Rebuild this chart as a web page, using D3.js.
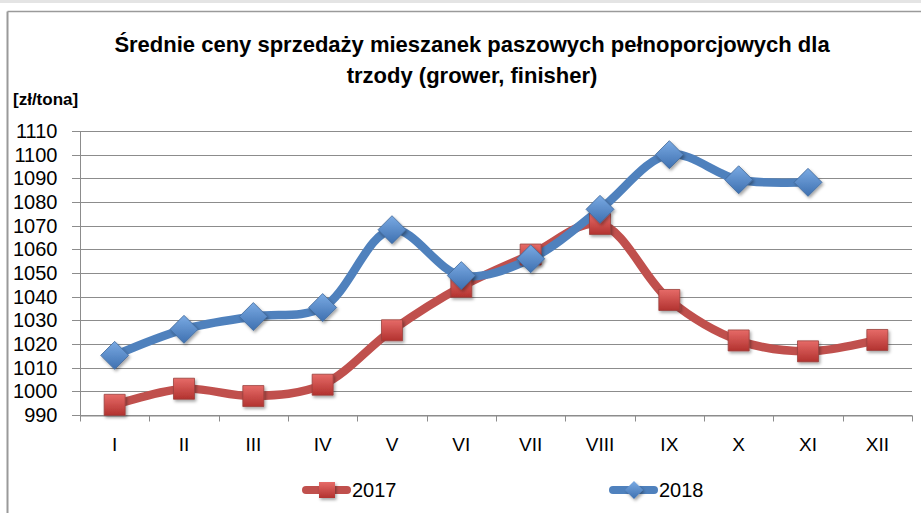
<!DOCTYPE html>
<html lang="pl">
<head>
<meta charset="UTF-8">
<title>Średnie ceny sprzedaży mieszanek paszowych</title>
<script src="https://d3js.org/d3.v7.min.js"></script>
<style>
    body { margin: 0; background: #fff; }
    svg { display: block; font-family: "Liberation Sans", Arial, sans-serif; }
    .grid line { stroke: #8c8c8c; stroke-width: 1; }
    .axis path, .axis line { stroke: #8c8c8c; }
    .axis text { fill: #000; }
</style>
</head>
<body>
<div id="chart"></div>
<script>
    // data
    const months = ["I", "II", "III", "IV", "V", "VI", "VII", "VIII", "IX", "X", "XI", "XII"];
    const sales2017 = [994.3, 1001.1, 998.0, 1002.8, 1025.8, 1044.2, 1057.8, 1070.7, 1038.6, 1021.5, 1016.9, 1021.7];
    const sales2018 = [1015.2, 1026.2, 1031.6, 1035.4, 1068.3, 1048.9, 1056.0, 1076.9, 1100.0, 1089.4, 1088.3];
    const yTicks = [990, 1000, 1010, 1020, 1030, 1040, 1050, 1060, 1070, 1080, 1090, 1100, 1110];
    const titleLines = ["Średnie ceny sprzedaży mieszanek paszowych pełnoporcjowych dla", "trzody (grower, finisher)"];

    const width = 921, height = 513;
    const margin = { top: 131, right: 9, bottom: 98, left: 80 };

    const svg = d3.select("#chart").append("svg")
        .attr("width", width)
        .attr("height", height);

    const defs = svg.append("defs");
    const shadow = defs.append("filter").attr("id", "shadow")
        .attr("x", "-50%").attr("y", "-50%").attr("width", "200%").attr("height", "200%");
    shadow.append("feDropShadow")
        .attr("dx", 1.5).attr("dy", 2).attr("stdDeviation", 1.5)
        .attr("flood-color", "#000").attr("flood-opacity", 0.35);

    function gradient(id, top, bottom) {
        const g = defs.append("linearGradient").attr("id", id)
            .attr("x1", 0).attr("y1", 0).attr("x2", 0).attr("y2", 1);
        g.append("stop").attr("offset", "0%").attr("stop-color", top);
        g.append("stop").attr("offset", "100%").attr("stop-color", bottom);
    }
    gradient("redGrad", "#e66b68", "#b2322f");
    gradient("blueGrad", "#7aaae3", "#3e70b0");

    // frame
    svg.append("rect").attr("x", 0).attr("y", 0).attr("width", width).attr("height", 3).attr("fill", "#e4e4e4");
    svg.append("line").attr("x1", 7.5).attr("x2", width).attr("y1", 11.5).attr("y2", 11.5)
        .attr("stroke", "#9a9a9a").attr("stroke-width", 1.5);
    svg.append("line").attr("x1", 7.5).attr("x2", 7.5).attr("y1", 11.5).attr("y2", height)
        .attr("stroke", "#9a9a9a").attr("stroke-width", 2);

    // title
    svg.append("text")
        .attr("text-anchor", "middle")
        .attr("font-weight", "bold")
        .attr("font-size", 22)
        .selectAll("tspan")
        .data(titleLines)
        .join("tspan")
        .attr("x", 472)
        .attr("y", (d, i) => 52 + i * 31)
        .text(d => d);

    svg.append("text")
        .attr("x", 13).attr("y", 105)
        .attr("font-weight", "bold")
        .attr("font-size", 17)
        .text("[zł/tona]");

    const x = d3.scaleBand()
        .domain(months)
        .range([margin.left, width - margin.right]);

    const y = d3.scaleLinear()
        .domain([990, 1110])
        .range([height - margin.bottom, margin.top]);

    // gridlines
    svg.append("g").attr("class", "grid")
        .selectAll("line")
        .data(yTicks)
        .join("line")
        .attr("x1", margin.left - 8)
        .attr("x2", width - margin.right)
        .attr("y1", d => Math.round(y(d)) + 0.5)
        .attr("y2", d => Math.round(y(d)) + 0.5);

    // y axis
    const yAxis = svg.append("g").attr("class", "axis")
        .attr("transform", `translate(${margin.left + 0.5},0)`)
        .call(d3.axisLeft(y).tickValues(yTicks).tickSize(0).tickPadding(23).tickFormat(d3.format("d")));
    yAxis.select(".domain").attr("d", `M0,${margin.top}V${height - margin.bottom}`);
    yAxis.selectAll("text").attr("font-size", 20);

    // x axis with ticks at category boundaries
    const xAxisG = svg.append("g").attr("class", "axis")
        .attr("transform", `translate(0,${Math.round(y(990)) + 0.5})`)
        .call(d3.axisBottom(x).tickSize(0).tickPadding(22));
    xAxisG.selectAll("text").attr("font-size", 19);
    const bounds = months.map(m => x(m)).concat([width - margin.right]);
    xAxisG.selectAll(".bound")
        .data(bounds)
        .join("line")
        .attr("class", "bound")
        .attr("x1", d => Math.round(d) + 0.5)
        .attr("x2", d => Math.round(d) + 0.5)
        .attr("y1", 0).attr("y2", 6);

    const cx = (d, i) => x(months[i]) + x.bandwidth() / 2;

    const line = d3.line()
        .x(cx)
        .y(d => y(d))
        .curve(d3.curveCatmullRom.alpha(0.5));

    const series = [
        { name: "2017", values: sales2017, color: "#c0504d", fill: "url(#redGrad)", shape: "square" },
        { name: "2018", values: sales2018, color: "#4f81bd", fill: "url(#blueGrad)", shape: "diamond" }
    ];

    const squarePath = "M-10.5,-10.5H10.5V10.5H-10.5Z";
    const diamondPath = "M0,-14L14,0L0,14L-14,0Z";

    series.forEach(s => {
        svg.append("path")
            .datum(s.values)
            .attr("fill", "none")
            .attr("stroke", s.color)
            .attr("stroke-width", 8.5)
            .attr("stroke-linejoin", "round")
            .attr("stroke-linecap", "round")
            .attr("d", line);
    });

    series.forEach(s => {
        svg.append("g")
            .selectAll("path")
            .data(s.values)
            .join("path")
            .attr("d", s.shape === "square" ? squarePath : diamondPath)
            .attr("transform", (d, i) => `translate(${cx(d, i)},${y(d)})`)
            .attr("fill", s.fill)
            .attr("stroke", d3.color(s.color).darker(0.6))
            .attr("stroke-width", 0.8)
            .attr("filter", "url(#shadow)");
    });

    // legend
    const legendX = [303, 610];
    const legend = svg.append("g")
        .selectAll("g")
        .data(series)
        .join("g")
        .attr("transform", (d, i) => `translate(${legendX[i]},490)`);
    legend.append("line")
        .attr("x1", 3).attr("x2", 44)
        .attr("stroke", d => d.color)
        .attr("stroke-width", 8)
        .attr("stroke-linecap", "round");
    legend.append("path")
        .attr("d", d => d.shape === "square" ? "M-8,-8H8V8H-8Z" : "M0,-9L9,0L0,9L-9,0Z")
        .attr("transform", "translate(24,0)")
        .attr("fill", d => d.fill)
        .attr("filter", "url(#shadow)");
    legend.append("text")
        .attr("x", 49).attr("y", 7)
        .attr("font-size", 20)
        .text(d => d.name);
</script>
</body>
</html>
